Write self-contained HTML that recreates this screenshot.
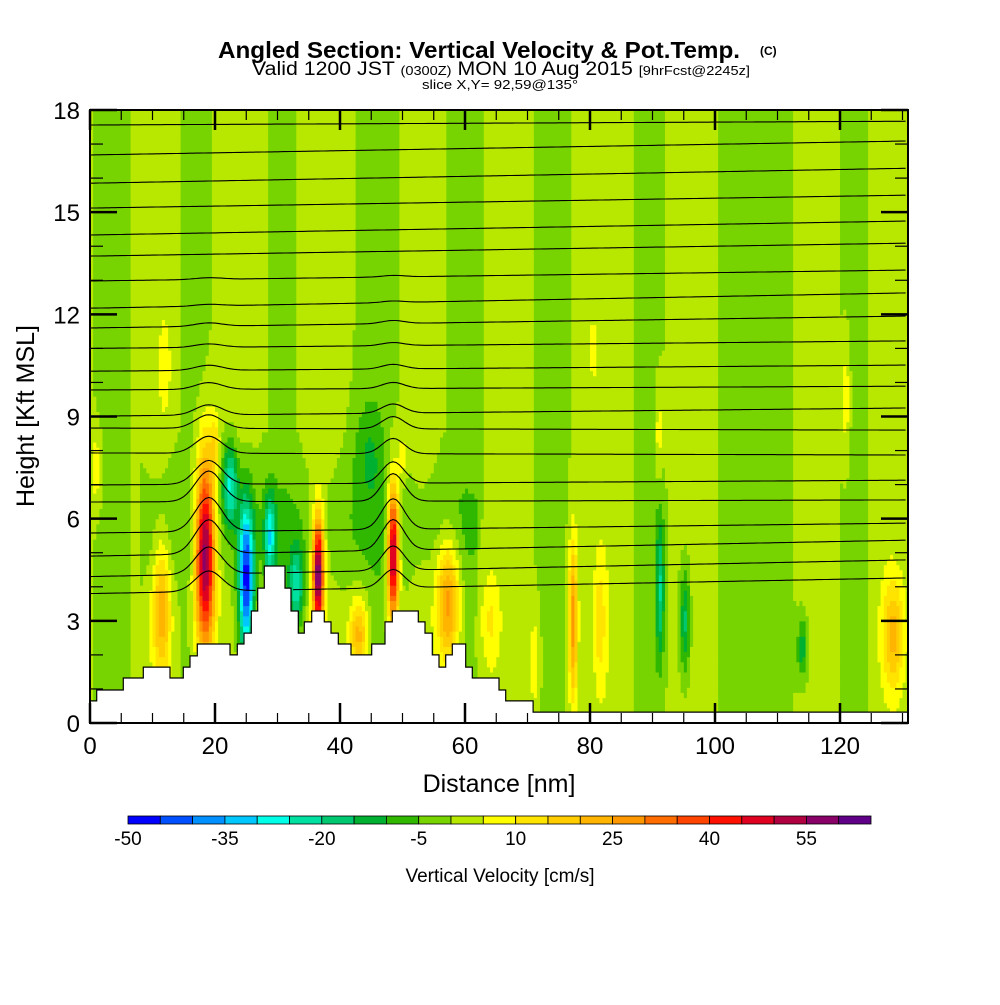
<!DOCTYPE html>
<html><head><meta charset="utf-8"><style>
html,body{margin:0;padding:0;background:#fff;}
svg text{font-family:"Liberation Sans",sans-serif;}
</style></head><body>
<svg id="chart" width="1000" height="1000" viewBox="0 0 1000 1000" xmlns="http://www.w3.org/2000/svg">
<rect x="0" y="0" width="1000" height="1000" fill="#fff"/>
<g id="field"></g>
<g id="terrain"></g>
<g id="contours"></g>
<g id="axes"></g>
<g id="cbar"></g>
<text x="218" y="58" font-size="23" font-weight="bold" textLength="522" lengthAdjust="spacingAndGlyphs">Angled Section: Vertical Velocity &amp; Pot.Temp.</text>
<text x="760" y="55" font-size="12" font-weight="bold">(C)</text>
<text x="252" y="75" font-size="19" textLength="498" lengthAdjust="spacingAndGlyphs">Valid 1200 JST <tspan font-size="13">(0300Z)</tspan> MON 10 Aug 2015 <tspan font-size="13">[9hrFcst@2245z]</tspan></text>
<text x="422" y="89" font-size="13" textLength="156" lengthAdjust="spacingAndGlyphs">slice X,Y= 92,59@135°</text>
<text x="499" y="792" font-size="25" text-anchor="middle">Distance [nm]</text>
<text transform="translate(34,416) rotate(-90)" font-size="25" text-anchor="middle">Height [Kft MSL]</text>
<text x="500" y="882" font-size="19" text-anchor="middle">Vertical Velocity [cm/s]</text>
</svg>
<script>
// ---- data ----
const xTicks = [0,20,40,60,80,100,120];
const yTicks = [0,3,6,9,12,15,18];
const cbarLabels = [-50,-35,-20,-5,10,25,40,55];
const cbarColors = ["#0000ff","#0050ff","#0090ff","#00c8ff","#00ffe8","#00e0a0","#00c870","#00b030","#30b800","#78d400","#b8e800","#ffff00","#ffe400","#ffcc00","#ffb400","#ff9800","#ff6c00","#ff4400","#ff1000","#e00020","#b00040","#880068","#600088"];
const terrainX = [0,1.07,5.33,8.53,12.8,14.93,16,17.17,22.4,23.57,24.64,25.81,26.83,27.89,31.2,32.16,33.33,34.29,35.47,37.49,38.56,39.73,41.76,45.07,47.2,48.37,52.53,53.6,54.77,55.84,56.91,57.97,60.11,61.17,65.44,66.51,70.9,131];
const terrainH = [0.65,0.97,1.32,1.64,1.32,1.64,1.97,2.32,2.0,2.32,2.64,3.29,3.96,4.61,3.96,3.29,2.64,2.97,3.29,2.97,2.64,2.32,2.0,2.32,2.97,3.29,2.97,2.64,2.0,1.64,2.0,2.32,1.64,1.32,0.97,0.65,0.32];
// plumes: centre distance (nm), centre height (kft), amplitude (cm/s), half-width (nm), half-height (kft)
const plumeX = [11.5,18.4,25.0,22.4,28.8,36.5,33.0,48.5,57.3,64.0,1.0,43.0,77.3,91.2,95.2,81.6,91.0,80.5,128.5,121.0,114.0,71.2,12.0,44.5,20,50];
const plumeH = [3.3,5.0,4.2,7.0,5.5,4.4,4.0,5.0,3.6,3.0,7.5,2.6,3.0,4.0,3.0,3.0,8.5,11.0,2.6,9.5,2.2,1.8,10.5,8.0,8.2,7.8];
const plumeA = [22,62,-48,-25,-26,60,-22,58,28,10,10,22,28,-20,-18,11,8,7,20,9,-14,9,7,-8,10,9];
const plumeW = [1.4,1.6,1.2,1.2,0.9,0.9,1.2,0.9,1.8,1.6,0.8,1.5,0.7,0.7,0.8,1.0,0.6,0.6,1.8,0.7,0.9,0.8,1.0,2.5,0.8,0.7];
const plumeHH = [2.0,2.8,2.2,1.2,1.2,1.7,1.2,2.0,1.8,1.5,0.9,1.1,2.4,2.2,1.6,1.8,1.5,0.8,1.6,2.0,0.9,1.4,1.5,1.5,0.8,0.7];
// background streaks: distance (nm), value (cm/s), half-width (nm)
const streakX = [4,10,17,24,31,37,46,53,60,67,74,83,89,96,103,110,116,122,128];
const streakV = [-3,2,-3,2,-2,3,-3,3,-2,2,-3,3,-3,2,-2,-3,2,-3,2];
const streakW = [2.5,3,2,3,2.5,3,3,2.5,3,3,2.5,3.5,2.5,3,2.5,2.5,3,2,2.5];
const thetaLeft  = [17.56,16.68,15.85,15.12,14.33,13.71,12.98,12.18,11.6,11.0,10.33,9.78,9.01,8.66,7.93,6.99,6.49,5.58,4.9,4.3,3.8];
const thetaRight = [17.67,17.09,16.29,15.5,14.74,14.09,13.3,12.63,11.95,11.22,10.51,9.89,9.25,8.6,7.87,7.13,6.55,5.87,5.37,4.79,4.26];
const thetaBump  = [0,0,0,0,0,0,0.05,0.05,0.1,0.1,0.15,0.2,0.3,0.4,0.5,0.7,0.9,1.0,1.0,0.8,0.6];

// ---- scales ----
const X0=90,X1=908,Y0=723,Y1=110;
const xs = v => X0 + v*6.25;
const ys = v => Y0 - v*(Y0-Y1)/18;
const NS="http://www.w3.org/2000/svg";
function mk(tag,attrs,parent){const e=document.createElementNS(NS,tag);for(const k in attrs)e.setAttribute(k,attrs[k]);parent.appendChild(e);return e;}
const colorOf = v => {let i=Math.floor((v+50)/5);i=Math.max(0,Math.min(cbarColors.length-1,i));return cbarColors[i];};

function field(x,h){
  let v=0.5;
  for(let i=0;i<streakX.length;i++){const d=(x-streakX[i])/streakW[i];v+=streakV[i]*Math.exp(-d*d);}
  if(h<8.5 && x>8 && x<62){const d=(h-5.8)/1.8;v-=5*Math.exp(-d*d);}
  for(let i=0;i<plumeX.length;i++){
    const dx=(x-plumeX[i])/plumeW[i], dh=(h-plumeH[i])/plumeHH[i];
    v+=plumeA[i]*Math.exp(-dx*dx-dh*dh);
  }
  return v;
}
// field cells
const fg=document.getElementById('field');
const dX=0.5,dH=0.15,xmax=(X1-X0)/6.25;
for(let h=0;h<18;h+=dH){
  let runStart=0,runCol=null;
  const y=ys(h+dH), hgt=ys(h)-ys(h+dH);
  for(let x=0;x<=xmax+dX;x+=dX){
    const c = x>xmax? null : colorOf(field(x+dX/2,h+dH/2));
    if(c!==runCol){
      if(runCol){
        const r=mk('rect',{x:xs(runStart).toFixed(1),y:y.toFixed(1),width:(Math.min(xs(x),X1)-xs(runStart)+0.6).toFixed(1),height:(hgt+0.6).toFixed(1),fill:runCol},fg);
        
        
      }
      runStart=x;runCol=c;
    }
  }
}
// terrain
const tg=document.getElementById('terrain');
let d='M'+X0+','+Y0;
for(let i=0;i<terrainH.length;i++){
  const xa=xs(terrainX[i]), xb=Math.min(X1,xs(terrainX[i+1]));
  d+=' L'+xa.toFixed(1)+','+ys(terrainH[i]).toFixed(1)+' L'+xb.toFixed(1)+','+ys(terrainH[i]).toFixed(1);
}
d+=' L'+X1+','+Y0+' Z';
const tp=mk('path',{d:d,fill:'#fff',stroke:'none'},tg);


let d2='';
for(let i=0;i<terrainH.length;i++){
  const xa=xs(terrainX[i]), xb=Math.min(X1,xs(terrainX[i+1]));
  d2+=(i?' L':'M')+xa.toFixed(1)+','+ys(terrainH[i]).toFixed(1)+' L'+xb.toFixed(1)+','+ys(terrainH[i]).toFixed(1);
}
const tl=mk('path',{d:d2,fill:'none',stroke:'#000','stroke-width':1.2},tg);


function terrainAt(x){for(let i=0;i<terrainH.length;i++){if(x<terrainX[i+1])return terrainH[i];}return terrainH[terrainH.length-1];}
// contours
const cg=document.getElementById('contours');
for(let j=0;j<thetaLeft.length;j++){
  let p='',pen=false;
  for(let x=0;x<=xmax;x+=0.5){
    const t=x/xmax;
    let h=thetaLeft[j]*(1-t)+thetaRight[j]*t;
    const b1=(x-19)/3,b2=(x-48.5)/2.5;
    h+=thetaBump[j]*(Math.exp(-b1*b1)+0.9*Math.exp(-b2*b2));
    if(h>terrainAt(x)+0.1){p+=(pen?' L':' M')+xs(x).toFixed(1)+','+ys(h).toFixed(1);pen=true;}else pen=false;
  }
  const c=mk('path',{d:p,fill:'none',stroke:'#000','stroke-width':1.1},cg);
  
  
}
// axes
const ag=document.getElementById('axes');
const frame=mk('rect',{x:X0,y:Y1,width:X1-X0,height:Y0-Y1,fill:'none',stroke:'#000','stroke-width':2},ag);


for(let v=0;v<=130;v+=5){
  const maj=v%20===0,L=maj?20:10,x=xs(v);
  const t1=mk('line',{x1:x,y1:Y0,x2:x,y2:Y0-L,stroke:'#000','stroke-width':maj?2.5:1.2},ag);
  
  
  const t2=mk('line',{x1:x,y1:Y1,x2:x,y2:Y1+L,stroke:'#000','stroke-width':maj?2.5:1.2},ag);
  
  
}
xTicks.forEach(v=>{
  const t=mk('text',{x:xs(v),y:754,'font-size':24,'text-anchor':'middle'},ag);t.textContent=v;
  
  
});
for(let v=0;v<=18;v+=1){
  const maj=v%3===0,L=maj?27:13,y=ys(v);
  const t1=mk('line',{x1:X0,y1:y,x2:X0+L,y2:y,stroke:'#000','stroke-width':maj?2.5:1.2},ag);
  
  
  const t2=mk('line',{x1:X1,y1:y,x2:X1-L,y2:y,stroke:'#000','stroke-width':maj?2.5:1.2},ag);
  
  
}
yTicks.forEach(v=>{
  const t=mk('text',{x:80,y:ys(v)+9,'font-size':24,'text-anchor':'end'},ag);t.textContent=v;
  
  
});
// colorbar
const bg=document.getElementById('cbar');
const CB0=128,CB1=871,cw=(CB1-CB0)/cbarColors.length;
cbarColors.forEach((c,i)=>{
  const r=mk('rect',{x:(CB0+i*cw).toFixed(1),y:816,width:cw.toFixed(1),height:8,fill:c,stroke:'#000','stroke-width':0.8},bg);
  
  
});
cbarLabels.forEach(v=>{
  const i=(v+50)/5;
  const t=mk('text',{x:CB0+i*cw,y:845,'font-size':19,'text-anchor':'middle'},bg);t.textContent=v;
  
  
});
</script>
</body></html>
